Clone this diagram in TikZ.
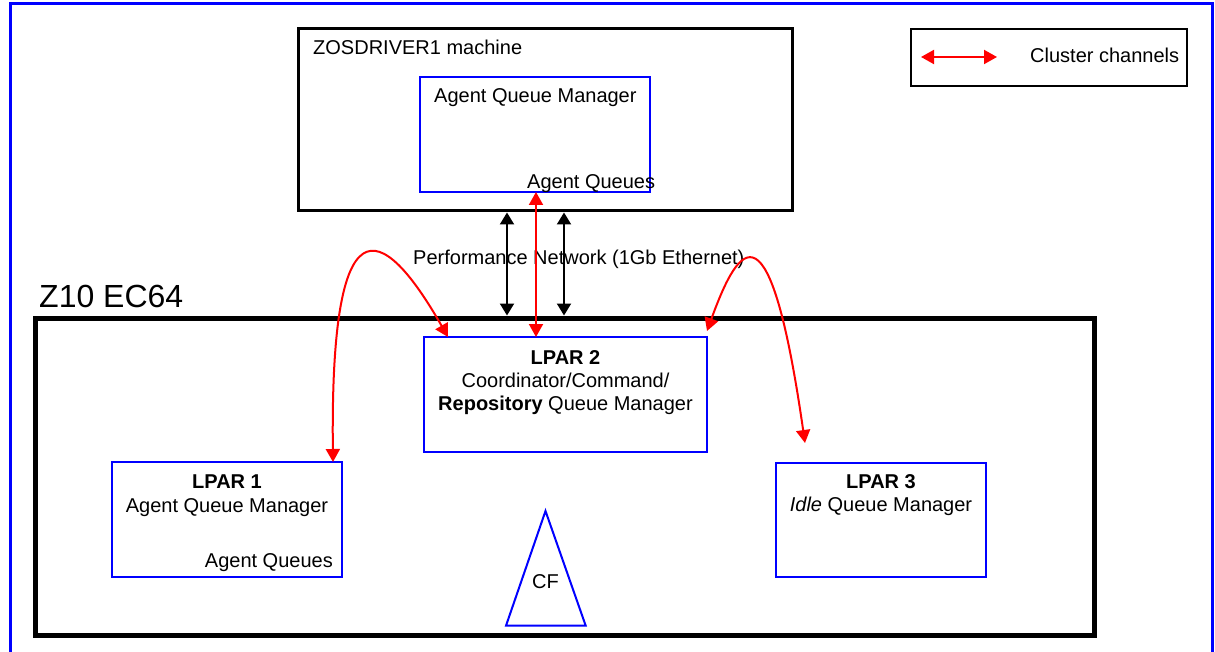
\documentclass[tikz,border=0pt]{standalone}
\usepackage{fontspec}
\setmainfont{Liberation Sans}
\usetikzlibrary{arrows.meta}
\definecolor{qblue}{RGB}{0,0,255}
\definecolor{cred}{RGB}{255,0,0}
\begin{document}
\begin{tikzpicture}[x=1pt,y=-1pt,
  box/.style={draw,rectangle,inner sep=0pt,outer sep=0pt,anchor=north west},
  machbox/.style={box,draw=black,line width=3pt},
  qbox/.style={box,draw=qblue,line width=2.5pt},
  lbl/.style={font=\fontsize{20}{24}\selectfont,inner sep=0pt,anchor=base},
  lblw/.style={lbl,anchor=base west},
  chan/.style={draw=cred,line width=2pt,{Triangle[length=13pt,width=14pt]}-{Triangle[length=13pt,width=14pt]}},
  net/.style={draw=black,line width=2pt,{Triangle[length=12pt,width=14pt]}-{Triangle[length=12pt,width=14pt]}}
]
\useasboundingbox (0,0) rectangle (1215,652);
\clip (0,0) rectangle (1215,652);

% outer page frame (open at the bottom)
\node[box,draw=qblue,line width=3pt,minimum width=1202pt,minimum height=700pt] (frame) at (10,3.8) {};

% driver machine
\node[machbox,minimum width=494pt,minimum height=182pt] (zos) at (298,29) {};
\node[lblw] (zostxt) at (313,54.5) {ZOSDRIVER1 machine};
\node[qbox,minimum width=230pt,minimum height=115pt] (aqm) at (420,77) {};
\node[lblw] (aqmtxt) at (434,103) {Agent Queue Manager};
\node[lblw] (aqmq) at (527,189) {Agent Queues};

% legend
\node[box,draw=black,line width=2pt,minimum width=276pt,minimum height=57pt] (legend) at (911,29) {};
\coordinate (lgA) at (921,57);
\coordinate (lgB) at (997,57);
\draw[chan] (lgA) -- (lgB);
\node[lblw] (lgtxt) at (1030,63) {Cluster channels};

% z10 system
\node[lblw,font=\fontsize{32}{38}\selectfont] (z10txt) at (39,308) {Z10 EC64};
\node[box,draw=black,line width=5pt,minimum width=1059pt,minimum height=317pt] (z10) at (35,318) {};

% LPAR 1
\node[qbox,minimum width=230pt,minimum height=115pt] (lpar1) at (112,462) {};
\node[lbl,font=\fontsize{20}{24}\selectfont\bfseries] (l1a) at (227,488) {LPAR 1};
\node[lbl] (l1b) at (227,512) {Agent Queue Manager};
\node[lbl,anchor=base east] (l1c) at (333,567) {Agent Queues};

% LPAR 2
\node[qbox,minimum width=283pt,minimum height=115pt] (lpar2) at (424,337) {};
\node[lbl,font=\fontsize{20}{24}\selectfont\bfseries] (l2a) at (565.5,364) {LPAR 2};
\node[lbl] (l2b) at (565.5,387) {Coordinator/Command/};
\node[lbl] (l2c) at (565.5,410) {\textbf{Repository} Queue Manager};

% LPAR 3
\node[qbox,minimum width=210pt,minimum height=114pt] (lpar3) at (776,463) {};
\node[lbl,font=\fontsize{20}{24}\selectfont\bfseries] (l3a) at (881,488) {LPAR 3};
\node[lbl] (l3b) at (881,511) {\textit{Idle} Queue Manager};

% coupling facility
\draw[qblue,line width=2pt,line join=miter] (545.5,511) -- (585.7,625.7) -- (506,625.7) -- cycle;
\node[lbl] (cf) at (545.5,588) {CF};

% network label
\node[lblw] (nettxt) at (413,265) {Performance Network (1Gb Ethernet)};

% reference verticals for the links
\coordinate (xa) at (507,0);
\coordinate (xb) at (564,0);
\coordinate (xr) at (536,0);
\coordinate (x1) at (333,0);
\coordinate (x2) at (448,0);

% network links between the machine and the z10
\draw[net] ([yshift=-1.5pt]zos.south -| xa) -- ([yshift=2.5pt]z10.north -| xa);
\draw[net] ([yshift=-1.5pt]zos.south -| xb) -- ([yshift=2.5pt]z10.north -| xb);

% cluster channels
\draw[chan] (aqm.south -| xr) -- (lpar2.north -| xr);
\draw[chan] (lpar1.north -| x1) .. controls (330,200) and (380,218) .. (lpar2.north -| x2);
\coordinate (r0) at (707,331);
\coordinate (r1) at (805,443);
\draw[chan] (r0) .. controls (740,240) and (770,200) .. (r1);
\end{tikzpicture}
\end{document}
